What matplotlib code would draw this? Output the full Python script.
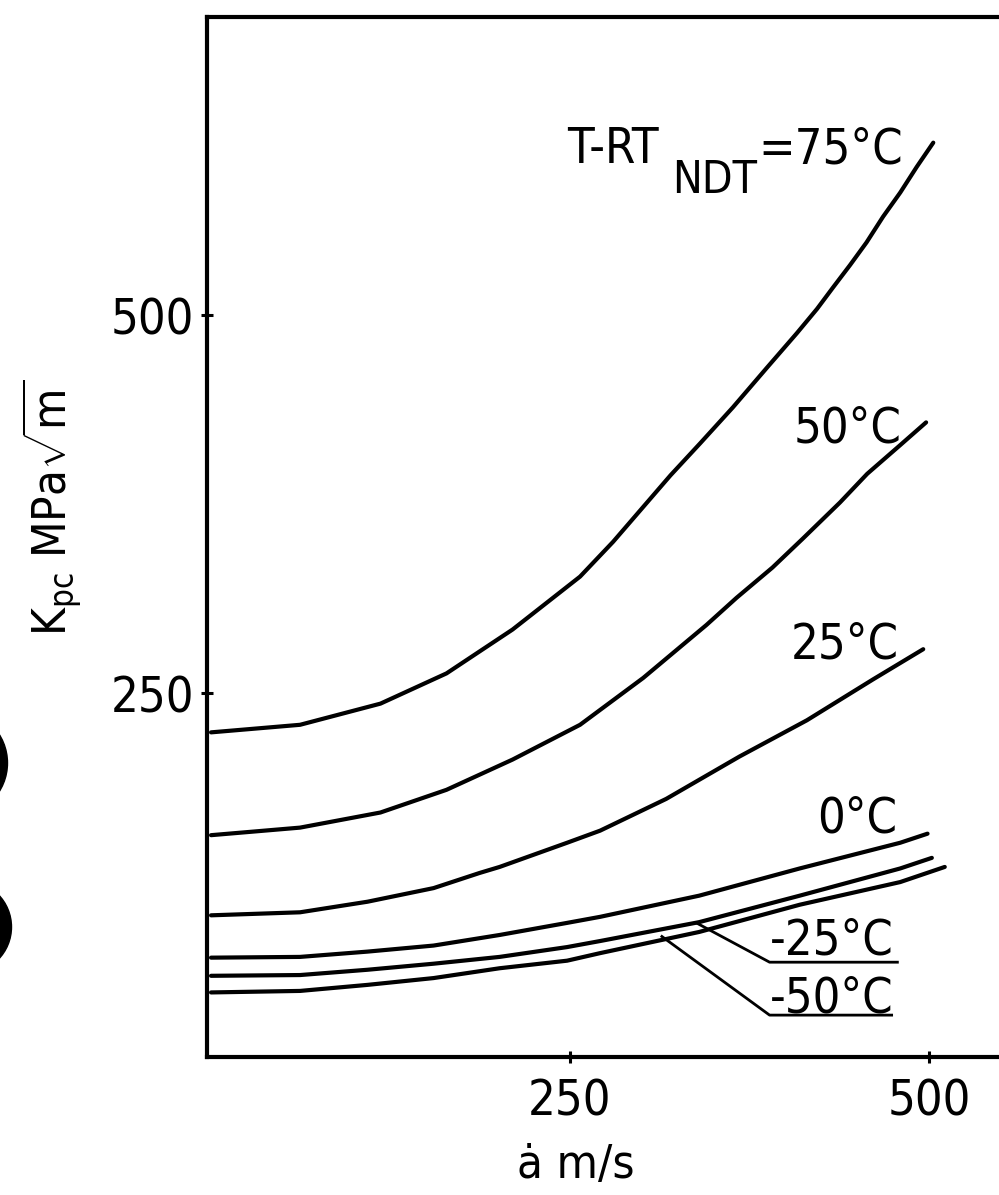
import matplotlib
matplotlib.use('Agg')
import matplotlib.pyplot as plt
from matplotlib.patches import Ellipse

# crack speed (m/s) and K_pc (MPa sqrt m)
speed_75 = [0, 62, 118, 164, 210, 257, 280, 300, 320, 340.5, 363.5, 387, 408,
            422, 433, 445, 456.5, 468, 480, 491.5, 503]
kpc_75 = [224, 229, 243, 263, 292, 327, 350, 372, 394, 415, 439, 465, 488,
          504, 518, 533, 548, 565, 581, 598, 614]

speed_50 = [0, 62, 118, 164, 210, 257, 301, 345, 366, 391, 412, 438, 457, 480, 498]
kpc_50 = [156, 161, 171, 186, 206, 229, 260, 295, 313, 333, 352, 376, 395, 414, 429]

speed_25 = [0, 62, 109, 155, 187, 201, 248, 271, 317, 368, 415, 461, 496]
kpc_25 = [103, 105, 112, 121, 131, 135, 151, 159, 180, 208, 232, 259, 279]

speed_0 = [0, 62, 109, 155, 201, 248, 271, 340, 410, 480, 499]
kpc_0 = [75, 75.5, 79, 83, 90, 98, 102, 116, 134, 151, 157]

speed_m25 = [0, 62, 109, 155, 201, 248, 271, 340, 410, 480, 502]
kpc_m25 = [63, 63.5, 67, 71, 75.5, 82, 86, 98.5, 116, 134, 141]

speed_m50 = [0, 62, 109, 155, 201, 248, 271, 340, 410, 480, 511]
kpc_m50 = [52, 53, 57, 61.5, 68, 73, 78, 92, 110, 125, 135]

# leader lines for the two lowest labels
leader_m25_x = [338, 389, 478]
leader_m25_y = [98, 72, 72]
leader_m50_x = [314, 389, 474]
leader_m50_y = [89, 37, 37]

ticks = [250, 500]

FONT = ['DejaVu Sans Condensed', 'Liberation Sans Narrow', 'DejaVu Sans']
plt.rcParams['font.family'] = FONT
plt.rcParams['font.stretch'] = 'condensed'
plt.rcParams['mathtext.fontset'] = 'custom'
plt.rcParams['mathtext.rm'] = 'DejaVu Sans:stretch=condensed'
plt.rcParams['mathtext.it'] = 'DejaVu Sans:stretch=condensed'

W, H = 999, 1195
fig = plt.figure(figsize=(W / 100, H / 100), dpi=100)
# axes run off the right edge like the scanned page
ax = fig.add_axes([207 / W, 138 / H, (1019 - 207) / W, (1178 - 138) / H])
ax.set_xlim(-2.8, 562.7)
ax.set_ylim(9.3, 697.1)

lw = 3.0
for xs, ys in [(speed_75, kpc_75), (speed_50, kpc_50), (speed_25, kpc_25),
               (speed_0, kpc_0), (speed_m25, kpc_m25), (speed_m50, kpc_m50)]:
    ax.plot(xs, ys, color='black', lw=lw, solid_capstyle='round',
            solid_joinstyle='round', clip_on=False)

ax.plot(leader_m25_x, leader_m25_y, color='black', lw=2.0)
ax.plot(leader_m50_x, leader_m50_y, color='black', lw=2.0)

fs = 35
ax.text(279.6, 600.5, 'T-RT', fontsize=fs, va='baseline', ha='center')
ax.text(351, 581, 'NDT', fontsize=fs - 3, va='baseline', ha='center')
ax.text(431.4, 600.5, '=75°C', fontsize=fs, va='baseline', ha='center')
ax.text(443.2, 416, '50°C', fontsize=fs, va='baseline', ha='center')
ax.text(441.2, 273, '25°C', fontsize=fs, va='baseline', ha='center')
ax.text(450.2, 158, '0°C', fontsize=fs, va='baseline', ha='center')
ax.text(389, 77, '-25°C', fontsize=fs, va='baseline', ha='left')
ax.text(389, 38.4, '-50°C', fontsize=fs, va='baseline', ha='left')

for side in ['left', 'top', 'bottom']:
    ax.spines[side].set_linewidth(3.0)
ax.spines['right'].set_visible(False)

ax.set_xticks(ticks)
ax.set_yticks(ticks)
ax.tick_params(direction='inout', length=9, width=2.2, labelsize=fs)
ax.tick_params(axis='x', pad=10)
ax.tick_params(axis='y', pad=5)

fig.text(52 / W, 1 - 508 / H, r'K$_{\mathrm{pc}}$ MPa$\sqrt{\mathrm{m}}$',
         rotation=90, ha='center', va='center', fontsize=34)
fig.text(576 / W, 1 - 1165 / H, 'ȧ m/s', ha='center', va='center', fontsize=34)

# punch holes at the left edge of the scan
fig.patches.append(Ellipse((-46 / W, 1 - 763 / H), 107 / W, 107 / H,
                           transform=fig.transFigure, color='black'))
fig.patches.append(Ellipse((-35 / W, 1 - 927 / H), 93 / W, 93 / H,
                           transform=fig.transFigure, color='black'))

fig.savefig('out.png', dpi=100)
